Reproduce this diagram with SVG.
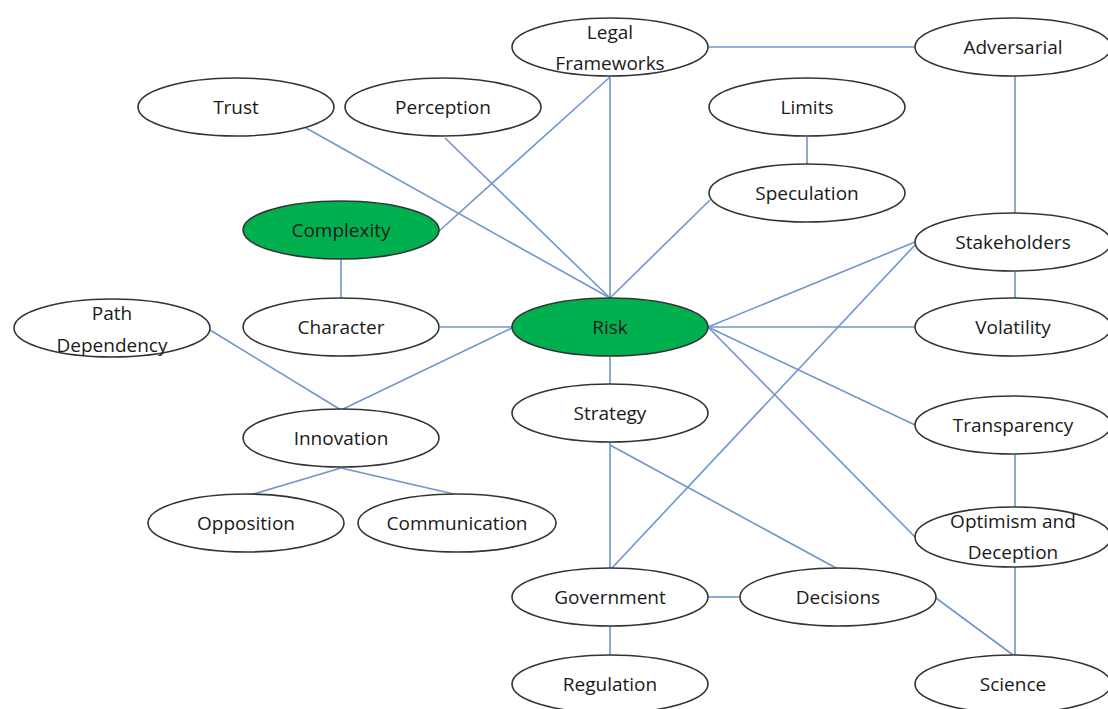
<svg xmlns="http://www.w3.org/2000/svg" width="1108" height="709" viewBox="0 0 1108 709">
  <style>
    .edge { stroke: #6f96cc; stroke-width: 1.6; fill: none; }
    .node ellipse { fill: #ffffff; stroke: #333333; stroke-width: 1.6; }
    .node.hl ellipse { fill: #00b04f; }
    .node text { font-family: "Open Sans", "Noto Sans", "Liberation Sans", sans-serif; font-size: 19px; fill: #1a1a1a; text-anchor: middle; dominant-baseline: central; }
  </style>
  <rect width="1108" height="709" fill="#ffffff"/>

  <g id="connectors">
    <line class="edge" x1="708" y1="47" x2="915" y2="47"/>
    <line class="edge" x1="1015" y1="76" x2="1015" y2="213"/>
    <line class="edge" x1="306" y1="128" x2="610" y2="298"/>
    <line class="edge" x1="445" y1="138" x2="610" y2="298"/>
    <line class="edge" x1="610" y1="77" x2="610" y2="298"/>
    <line class="edge" x1="610" y1="77" x2="438" y2="232"/>
    <line class="edge" x1="710" y1="200" x2="610" y2="298"/>
    <line class="edge" x1="807" y1="137" x2="807" y2="165"/>
    <line class="edge" x1="341" y1="260" x2="341" y2="298"/>
    <line class="edge" x1="440" y1="327" x2="512" y2="327"/>
    <line class="edge" x1="512" y1="328" x2="341" y2="410"/>
    <line class="edge" x1="210" y1="330" x2="341" y2="410"/>
    <line class="edge" x1="341" y1="468" x2="250" y2="495"/>
    <line class="edge" x1="341" y1="468" x2="458" y2="495"/>
    <line class="edge" x1="708" y1="327" x2="915" y2="242"/>
    <line class="edge" x1="708" y1="327" x2="915" y2="327"/>
    <line class="edge" x1="708" y1="327" x2="915" y2="425"/>
    <line class="edge" x1="708" y1="327" x2="915" y2="537"/>
    <line class="edge" x1="1015" y1="272" x2="1015" y2="298"/>
    <line class="edge" x1="1015" y1="455" x2="1015" y2="508"/>
    <line class="edge" x1="1015" y1="567" x2="1015" y2="655"/>
    <line class="edge" x1="915" y1="245" x2="612" y2="568"/>
    <line class="edge" x1="610" y1="357" x2="610" y2="385"/>
    <line class="edge" x1="610" y1="442" x2="610" y2="568"/>
    <line class="edge" x1="610" y1="445" x2="836" y2="568"/>
    <line class="edge" x1="708" y1="597" x2="740" y2="597"/>
    <line class="edge" x1="610" y1="626" x2="610" y2="655"/>
    <line class="edge" x1="936" y1="598" x2="1013" y2="655"/>
  </g>

  <g id="legal-frameworks" class="node"><ellipse cx="610" cy="47" rx="98" ry="29"/><text x="610" y="32">Legal</text><text x="610" y="63">Frameworks</text></g>
  <g id="adversarial" class="node"><ellipse cx="1013" cy="47" rx="98" ry="29"/><text x="1013" y="47">Adversarial</text></g>
  <g id="trust" class="node"><ellipse cx="236" cy="107" rx="98" ry="29"/><text x="236" y="107">Trust</text></g>
  <g id="perception" class="node"><ellipse cx="443" cy="107" rx="98" ry="29"/><text x="443" y="107">Perception</text></g>
  <g id="limits" class="node"><ellipse cx="807" cy="107" rx="98" ry="29"/><text x="807" y="107">Limits</text></g>
  <g id="speculation" class="node"><ellipse cx="807" cy="193" rx="98" ry="29"/><text x="807" y="193">Speculation</text></g>
  <g id="complexity" class="node hl"><ellipse cx="341" cy="230" rx="98" ry="29"/><text x="341" y="230">Complexity</text></g>
  <g id="stakeholders" class="node"><ellipse cx="1013" cy="242" rx="98" ry="29"/><text x="1013" y="242">Stakeholders</text></g>
  <g id="path-dependency" class="node"><ellipse cx="112" cy="328" rx="98" ry="29"/><text x="112" y="313">Path</text><text x="112" y="345">Dependency</text></g>
  <g id="character" class="node"><ellipse cx="341" cy="327" rx="98" ry="29"/><text x="341" y="327">Character</text></g>
  <g id="risk" class="node hl"><ellipse cx="610" cy="327" rx="98" ry="29"/><text x="610" y="327">Risk</text></g>
  <g id="volatility" class="node"><ellipse cx="1013" cy="327" rx="98" ry="29"/><text x="1013" y="327">Volatility</text></g>
  <g id="strategy" class="node"><ellipse cx="610" cy="413" rx="98" ry="29"/><text x="610" y="413">Strategy</text></g>
  <g id="innovation" class="node"><ellipse cx="341" cy="438" rx="98" ry="29"/><text x="341" y="438">Innovation</text></g>
  <g id="transparency" class="node"><ellipse cx="1013" cy="425" rx="98" ry="29"/><text x="1013" y="425">Transparency</text></g>
  <g id="opposition" class="node"><ellipse cx="246" cy="523" rx="98" ry="29"/><text x="246" y="523">Opposition</text></g>
  <g id="communication" class="node"><ellipse cx="457" cy="523" rx="99" ry="29"/><text x="457" y="523">Communication</text></g>
  <g id="optimism-deception" class="node"><ellipse cx="1013" cy="537" rx="98" ry="30"/><text x="1013" y="521">Optimism and</text><text x="1013" y="552">Deception</text></g>
  <g id="government" class="node"><ellipse cx="610" cy="597" rx="98" ry="29"/><text x="610" y="597">Government</text></g>
  <g id="decisions" class="node"><ellipse cx="838" cy="597" rx="98" ry="29"/><text x="838" y="597">Decisions</text></g>
  <g id="regulation" class="node"><ellipse cx="610" cy="684" rx="98" ry="29"/><text x="610" y="684">Regulation</text></g>
  <g id="science" class="node"><ellipse cx="1013" cy="684" rx="98" ry="29"/><text x="1013" y="684">Science</text></g>
</svg>
